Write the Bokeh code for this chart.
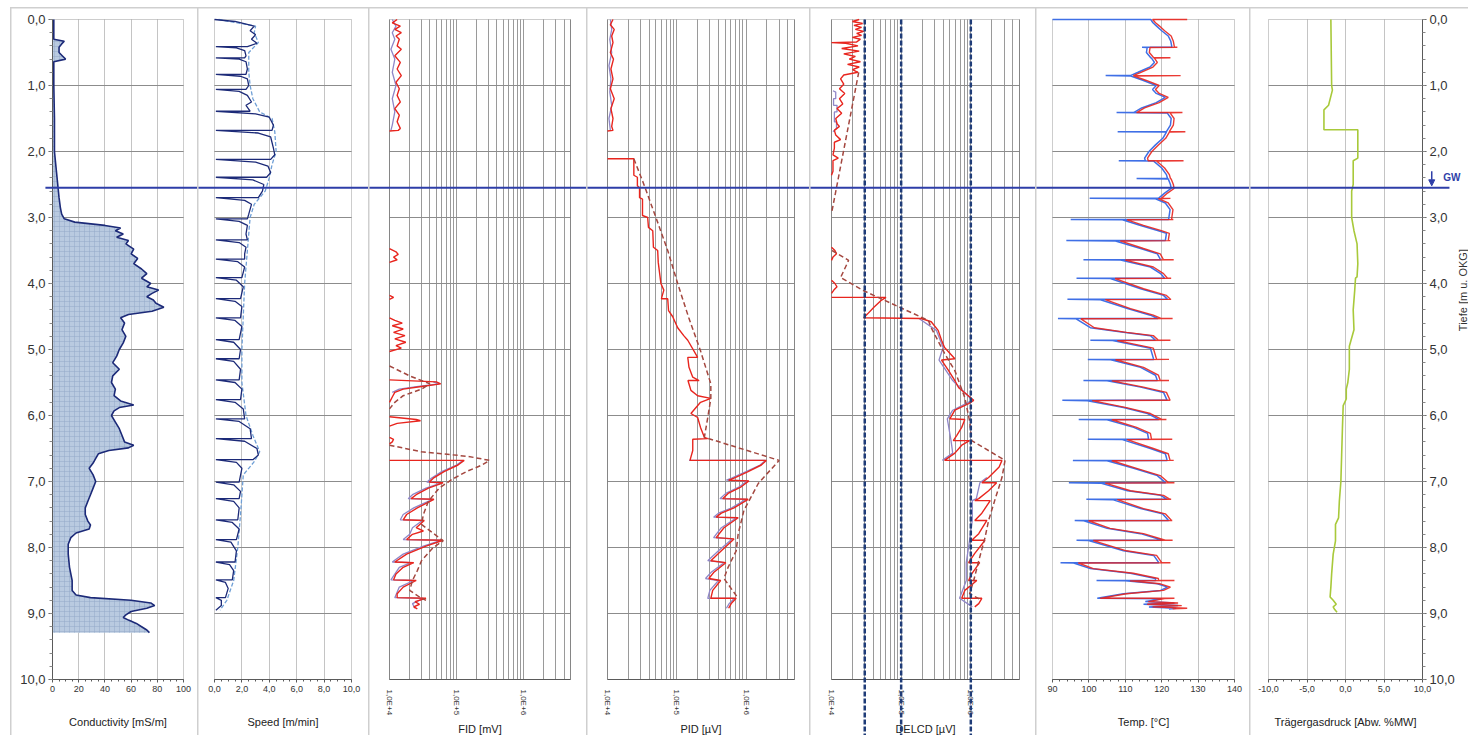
import math
from bokeh.plotting import figure
from bokeh.layouts import row
from bokeh.models import (Range1d, FixedTicker, CustomJSTickFormatter, Arrow, NormalHead, Label,
                          BoxAnnotation)
from bokeh.embed import file_html
from bokeh.resources import INLINE

NAN = float("nan")
FONT = "Liberation Sans"

# ---------------- data (depth in m, value) ----------------
depth_ticks = [0, 1, 2, 3, 4, 5, 6, 7, 8, 9, 10]
gw_depth = 2.55

conductivity = [
    (0.00, 1), (0.30, 1), (0.33, 9), (0.37, 7), (0.42, 5), (0.50, 5), (0.56, 8), (0.60, 10), (0.64, 1),
    (1.00, 1), (1.50, 1.5), (2.00, 1.5), (2.30, 3), (2.50, 4), (2.70, 5), (2.85, 6), (2.95, 7),
    (3.02, 9), (3.07, 17), (3.12, 40), (3.16, 52), (3.20, 48), (3.25, 54), (3.30, 49), (3.35, 58),
    (3.40, 56), (3.48, 62), (3.55, 60), (3.62, 65), (3.70, 62), (3.78, 68), (3.85, 72), (3.92, 68),
    (4.00, 75), (4.05, 72), (4.10, 81), (4.15, 76), (4.20, 72), (4.25, 77), (4.30, 79), (4.36, 85),
    (4.42, 76), (4.47, 58), (4.52, 52), (4.60, 55), (4.70, 53), (4.80, 56), (4.90, 54), (5.00, 51),
    (5.10, 49), (5.20, 46), (5.30, 51), (5.40, 46), (5.50, 45), (5.60, 48), (5.70, 47), (5.78, 52),
    (5.84, 62), (5.88, 51), (5.93, 47), (6.00, 45), (6.10, 48), (6.20, 51), (6.30, 53), (6.40, 55),
    (6.45, 62), (6.49, 58), (6.53, 43), (6.58, 35), (6.65, 33), (6.72, 31), (6.80, 28), (6.90, 31),
    (7.00, 33), (7.10, 31), (7.20, 29), (7.30, 27), (7.40, 25), (7.50, 25), (7.60, 27), (7.66, 29),
    (7.72, 28), (7.78, 18), (7.85, 14), (7.95, 12), (8.10, 12), (8.30, 13), (8.50, 15), (8.65, 15),
    (8.72, 18), (8.76, 29), (8.80, 60), (8.84, 75), (8.88, 78), (8.92, 72), (8.97, 60), (9.02, 56),
    (9.06, 54), (9.10, 58), (9.15, 64), (9.20, 68), (9.25, 72), (9.29, 74),
]

speed = [
    (0.00, 0.0), (0.03, 1.5), (0.10, 2.9), (0.17, 2.6), (0.23, 3.0), (0.30, 2.7), (0.36, 3.1),
    (0.41, 2.4), (0.41, 0.1), (0.43, 1.6), (0.47, 2.2), (0.55, 2.3), (0.58, 2.2), (0.58, 0.1),
    (0.60, 1.8), (0.64, 2.3), (0.75, 2.4), (0.83, 2.3), (0.83, 0.1), (0.86, 1.9), (0.90, 2.4),
    (1.00, 2.5), (1.06, 2.3), (1.06, 0.1), (1.09, 1.8), (1.15, 2.4), (1.25, 2.7), (1.30, 2.3),
    (1.39, 2.6), (1.39, 0.1), (1.43, 3.0), (1.48, 4.0), (1.60, 4.3), (1.68, 4.2), (1.68, 0.1),
    (1.72, 3.2), (1.78, 4.1), (1.95, 4.3), (2.05, 4.4), (2.12, 4.1), (2.12, 0.1), (2.16, 3.0),
    (2.22, 3.9), (2.32, 4.1), (2.39, 3.8), (2.39, 0.1), (2.43, 2.8), (2.50, 3.6), (2.60, 3.5),
    (2.70, 3.2), (2.70, 0.1), (2.74, 2.2), (2.80, 2.7), (2.95, 2.5), (3.02, 2.4), (3.02, 0.1),
    (3.06, 1.8), (3.12, 2.4), (3.25, 2.3), (3.34, 2.4), (3.34, 0.1), (3.38, 1.8), (3.45, 2.3),
    (3.55, 2.2), (3.63, 2.2), (3.63, 0.1), (3.67, 1.7), (3.75, 2.2), (3.91, 2.0), (3.91, 0.1),
    (3.95, 1.6), (4.05, 2.1), (4.23, 1.9), (4.23, 0.1), (4.27, 1.5), (4.35, 2.0), (4.52, 1.9),
    (4.52, 0.1), (4.56, 1.5), (4.65, 2.0), (4.85, 1.8), (4.85, 0.1), (4.89, 1.4), (5.00, 1.9),
    (5.14, 1.8), (5.14, 0.1), (5.18, 1.4), (5.30, 1.9), (5.46, 1.8), (5.46, 0.1), (5.50, 1.5),
    (5.60, 2.0), (5.76, 1.9), (5.76, 0.1), (5.80, 1.5), (5.90, 2.1), (6.05, 2.2), (6.05, 0.1),
    (6.09, 1.8), (6.20, 2.6), (6.35, 2.7), (6.35, 0.1), (6.39, 2.2), (6.50, 3.1), (6.60, 3.2),
    (6.67, 2.8), (6.67, 0.1), (6.71, 1.6), (6.80, 2.0), (7.01, 1.8), (7.01, 0.1), (7.05, 1.4),
    (7.15, 1.9), (7.26, 1.8), (7.26, 0.1), (7.30, 1.4), (7.40, 1.8), (7.58, 1.7), (7.58, 0.1),
    (7.62, 1.3), (7.72, 1.8), (7.88, 1.6), (7.88, 0.1), (7.92, 1.2), (8.05, 1.6), (8.22, 1.5),
    (8.22, 0.1), (8.26, 1.1), (8.35, 1.4), (8.49, 1.3), (8.49, 0.1), (8.53, 0.8), (8.62, 1.0),
    (8.76, 0.8), (8.76, 0.1), (8.80, 0.5), (8.88, 0.5), (8.95, 0.1),
]

speed_smooth = [
    (0.00, 0.3), (0.10, 3.0), (0.20, 2.9), (0.35, 3.2), (0.50, 2.5), (0.80, 2.5), (1.00, 2.6),
    (1.20, 2.8), (1.40, 3.3), (1.50, 4.2), (1.70, 4.4), (2.00, 4.5), (2.20, 4.2), (2.40, 4.0),
    (2.60, 3.7), (2.80, 2.9), (3.00, 2.6), (3.50, 2.4), (4.00, 2.2), (4.50, 2.1), (5.00, 2.0),
    (5.50, 2.0), (6.00, 2.3), (6.30, 2.8), (6.55, 3.3), (6.70, 2.9), (6.90, 2.1), (7.50, 1.9),
    (8.00, 1.7), (8.50, 1.4), (8.80, 0.9), (8.95, 0.4),
]

fid_red = [
    (0.00, 1.3e4), (0.05, 1.1e4), (0.10, 1.45e4), (0.15, 1.2e4), (0.20, 1.5e4), (0.25, 1.25e4),
    (0.30, 1.4e4), (0.40, 1.3e4), (0.45, 1.5e4), (0.55, 1.2e4), (0.65, 1.45e4), (0.75, 1.3e4),
    (0.85, 1.5e4), (0.95, 1.25e4), (1.05, 1.4e4), (1.15, 1.3e4), (1.25, 1.45e4), (1.35, 1.2e4),
    (1.45, 1.4e4), (1.55, 1.3e4), (1.65, 1.45e4), (1.68, 1.35e4), (1.69, 1.0e4), (NAN, NAN),
    (3.47, 1.0e4), (3.52, 1.25e4), (3.56, 1.35e4), (3.60, 1.15e4), (3.64, 1.3e4), (3.68, 1.0e4), (NAN, NAN),
    (4.18, 1.0e4), (4.21, 1.15e4), (4.24, 1.0e4), (NAN, NAN),
    (4.52, 1.0e4), (4.56, 1.2e4), (4.60, 1.55e4), (4.64, 1.1e4), (4.69, 1.6e4), (4.74, 1.15e4),
    (4.79, 1.7e4), (4.84, 1.2e4), (4.89, 1.75e4), (4.94, 1.25e4), (4.98, 1.5e4), (5.03, 1.0e4), (NAN, NAN),
    (5.46, 1.0e4), (5.49, 5.0e4), (5.52, 5.8e4), (5.56, 3.0e4), (5.60, 1.6e4), (5.65, 1.2e4),
    (5.72, 1.1e4), (5.80, 1.0e4), (NAN, NAN),
    (6.02, 1.0e4), (6.06, 2.5e4), (6.08, 2.9e4), (6.12, 1.3e4), (6.16, 1.0e4), (NAN, NAN),
    (6.33, 1.0e4), (6.36, 1.15e4), (6.40, 1.1e4), (6.43, 1.0e4), (NAN, NAN),
    (6.68, 1.0e4), (6.68, 1.3e5), (6.75, 1.05e5), (6.85, 6.5e4), (6.95, 4.5e4), (7.01, 3.9e4),
    (7.02, 6.3e4), (7.10, 3.8e4), (7.20, 2.5e4), (7.26, 2.1e4), (7.27, 4.6e4), (7.40, 2.6e4),
    (7.50, 1.8e4), (7.58, 1.6e4), (7.59, 3.3e4), (7.70, 2.5e4), (7.75, 3.2e4), (7.80, 2.2e4),
    (7.88, 1.8e4), (7.89, 6.3e4), (7.98, 3.5e4), (8.10, 1.8e4), (8.22, 1.2e4), (8.23, 2.3e4),
    (8.30, 1.6e4), (8.40, 1.25e4), (8.49, 1.15e4), (8.50, 2.5e4), (8.60, 1.6e4), (8.70, 1.3e4),
    (8.76, 1.3e4), (8.77, 3.5e4), (8.82, 2.4e4), (8.86, 2.8e4), (8.90, 2.3e4), (8.93, 2.6e4),
]

fid_purple = [
    (0.00, 1.1e4), (0.10, 1.25e4), (0.20, 1.1e4), (0.30, 1.2e4), (0.45, 1.05e4), (0.60, 1.2e4),
    (0.80, 1.1e4), (1.00, 1.25e4), (1.20, 1.1e4), (1.40, 1.2e4), (1.60, 1.1e4), (1.68, 1.05e4), (NAN, NAN),
    (5.49, 4.5e4), (5.52, 5.5e4), (5.56, 2.7e4), (5.60, 1.4e4), (5.65, 1.1e4), (NAN, NAN),
    (6.68, 1.25e5), (6.75, 1.0e5), (6.85, 6.0e4), (6.95, 4.2e4), (7.01, 3.6e4), (7.02, 6.0e4),
    (7.10, 3.5e4), (7.20, 2.2e4), (7.26, 1.9e4), (7.27, 4.4e4), (7.40, 2.3e4), (7.50, 1.6e4),
    (7.58, 1.45e4), (7.59, 3.1e4), (7.70, 2.2e4), (7.80, 2.0e4), (7.88, 1.6e4), (7.89, 6.0e4),
    (7.98, 3.2e4), (8.10, 1.6e4), (8.22, 1.1e4), (8.23, 2.1e4), (8.30, 1.4e4), (8.49, 1.05e4),
    (8.50, 2.3e4), (8.60, 1.4e4), (8.76, 1.2e4), (8.77, 3.2e4), (8.85, 2.2e4), (8.92, 2.4e4),
]

fid_dashed = [
    (5.25, 1.0e4), (5.40, 2.0e4), (5.52, 4.0e4), (5.60, 3.0e4), (5.70, 1.6e4), (5.80, 1.2e4),
    (5.90, 1.0e4), (NAN, NAN),
    (6.45, 1.0e4), (6.55, 3.0e4), (6.62, 1.5e5), (6.68, 3.1e5), (6.75, 2.4e5), (6.85, 1.4e5),
    (6.97, 8.5e4), (7.10, 5.5e4), (7.30, 3.8e4), (7.50, 3.2e4), (7.65, 3.0e4), (7.82, 5.0e4),
    (7.90, 6.3e4), (8.00, 4.5e4), (8.20, 3.0e4), (8.35, 2.6e4), (8.50, 2.2e4), (8.65, 2.0e4),
    (8.75, 2.8e4), (8.80, 3.5e4),
]

pid_red = [
    (0.00, 1.2e4), (0.08, 1.1e4), (0.15, 1.25e4), (0.25, 1.15e4), (0.35, 1.2e4), (0.50, 1.1e4),
    (0.60, 1.22e4), (0.75, 1.12e4), (0.90, 1.2e4), (1.05, 1.1e4), (1.20, 1.25e4), (1.35, 1.12e4),
    (1.50, 1.2e4), (1.62, 1.15e4), (1.68, 1.2e4), (1.69, 1.0e4), (NAN, NAN),
    (2.11, 1.0e4), (2.11, 2.4e4), (2.36, 2.4e4), (2.39, 2.7e4), (2.52, 2.7e4), (2.55, 2.9e4),
    (2.70, 2.9e4), (2.72, 3.2e4), (2.97, 3.2e4), (3.00, 3.8e4), (3.15, 3.9e4), (3.20, 4.5e4),
    (3.45, 4.6e4), (3.50, 5.3e4), (3.68, 5.4e4), (4.00, 5.9e4), (4.10, 6.5e4), (4.23, 6.0e4),
    (4.23, 7.4e4), (4.41, 7.6e4), (4.50, 8.7e4), (4.67, 1.03e5), (4.79, 1.26e5), (4.86, 1.44e5),
    (5.12, 2.0e5), (5.12, 1.44e5), (5.27, 1.5e5), (5.42, 1.7e5), (5.47, 2.1e5), (5.47, 1.45e5),
    (5.62, 1.6e5), (5.70, 2.0e5), (5.74, 3.1e5), (5.80, 2.2e5), (5.97, 1.6e5), (6.03, 2.0e5),
    (6.18, 2.2e5), (6.33, 2.5e5), (6.35, 2.8e5), (6.36, 1.7e5), (6.53, 1.7e5), (6.68, 1.55e5),
    (6.68, 1.96e6), (6.75, 1.66e6), (6.85, 1.07e6), (6.95, 6.7e5), (6.98, 5.6e5), (6.99, 1.1e6),
    (7.08, 8.5e5), (7.18, 5.5e5), (7.26, 4.6e5), (7.27, 1.07e6), (7.40, 6.7e5), (7.48, 4.4e5),
    (7.54, 3.7e5), (7.55, 7.7e5), (7.70, 4.8e5), (7.85, 3.7e5), (7.87, 6.7e5), (8.05, 4.4e5),
    (8.20, 3.1e5), (8.23, 5.1e5), (8.38, 3.4e5), (8.47, 2.9e5), (8.50, 4.3e5), (8.65, 3.3e5),
    (8.77, 3.1e5), (8.77, 7.2e5), (8.85, 6.1e5), (8.92, 5.6e5),
]

pid_purple = [
    (0.00, 1.1e4), (0.15, 1.15e4), (0.30, 1.08e4), (0.50, 1.15e4), (0.70, 1.05e4), (0.90, 1.12e4),
    (1.10, 1.08e4), (1.30, 1.15e4), (1.50, 1.05e4), (1.68, 1.1e4), (NAN, NAN),
    (6.68, 1.5e5), (6.68, 1.9e6), (6.75, 1.6e6), (6.85, 1.0e6), (6.95, 6.2e5), (6.98, 5.2e5),
    (6.99, 1.05e6), (7.08, 8.0e5), (7.18, 5.1e5), (7.26, 4.2e5), (7.27, 1.0e6), (7.40, 6.2e5),
    (7.48, 4.0e5), (7.54, 3.4e5), (7.55, 7.3e5), (7.70, 4.4e5), (7.85, 3.4e5), (7.87, 6.3e5),
    (8.05, 4.0e5), (8.20, 2.8e5), (8.23, 4.8e5), (8.38, 3.1e5), (8.47, 2.6e5), (8.50, 4.0e5),
    (8.65, 3.0e5), (8.77, 2.8e5), (8.77, 6.8e5), (8.85, 5.7e5), (8.92, 5.2e5),
]

pid_dashed = [
    (2.11, 2.4e4), (2.48, 3.3e4), (3.00, 5.0e4), (3.50, 7.4e4), (4.00, 1.03e5), (4.52, 1.49e5),
    (5.02, 2.2e5), (5.52, 3.1e5), (5.74, 3.1e5), (6.03, 2.8e5), (6.33, 2.5e5), (6.68, 3.0e6),
    (7.03, 1.5e6), (7.44, 9.3e5), (7.79, 7.7e5), (8.05, 7.2e5), (8.30, 5.5e5), (8.47, 4.8e5),
    (8.77, 7.7e5),
]

delcd_red = [
    (0.00, 2.5e4), (0.03, 2.0e4), (0.06, 2.8e4), (0.09, 2.1e4), (0.12, 2.7e4), (0.15, 2.2e4),
    (0.18, 2.9e4), (0.21, 2.3e4), (0.24, 2.7e4), (0.27, 2.0e4), (0.30, 2.6e4), (0.34, 2.3e4),
    (0.35, 1.0e4), (0.36, 1.6e4), (0.40, 2.4e4), (0.44, 1.4e4), (0.48, 2.5e4), (0.52, 1.5e4),
    (0.56, 2.2e4), (0.60, 1.8e4), (0.64, 2.6e4), (0.68, 1.7e4), (0.72, 2.5e4), (0.76, 2.0e4),
    (0.80, 2.4e4), (0.84, 1.5e4), (0.90, 1.35e4), (0.98, 1.5e4), (1.05, 1.3e4), (1.12, 1.55e4),
    (1.20, 1.3e4), (1.28, 1.45e4), (1.35, 1.2e4), (1.42, 1.4e4), (1.50, 1.15e4), (1.58, 1.2e4),
    (1.62, 1.3e4), (1.68, 1.1e4), (1.75, 1.15e4), (1.82, 1.35e4), (1.86, 1.1e4), (1.95, 1.1e4),
    (2.05, 1.05e4), (2.10, 1.25e4), (2.14, 1.05e4), (2.30, 1.05e4), (2.36, 1.0e4), (NAN, NAN),
    (3.45, 1.0e4), (3.50, 1.12e4), (3.55, 1.18e4), (3.60, 1.05e4), (3.65, 1.0e4), (NAN, NAN),
    (3.95, 1.0e4), (4.00, 1.12e4), (4.05, 1.2e4), (4.10, 1.08e4), (4.15, 1.0e4), (NAN, NAN),
    (4.21, 1.0e4), (4.21, 6.06e4), (4.26, 5.1e4), (4.36, 4.06e4), (4.46, 3.3e4), (4.52, 2.9e4),
    (4.53, 1.95e5), (4.58, 2.7e5), (4.71, 3.4e5), (4.86, 3.8e5), (4.97, 4.2e5), (5.14, 5.9e5),
    (5.16, 3.8e5), (5.32, 4.8e5), (5.47, 5.9e5), (5.58, 6.7e5), (5.77, 1.1e6), (5.82, 9.3e5),
    (5.92, 5.9e5), (6.05, 5.0e5), (6.06, 8.2e5), (6.18, 7.4e5), (6.30, 6.3e5), (6.38, 5.6e5),
    (6.38, 9.6e5), (6.45, 7.4e5), (6.57, 5.9e5), (6.68, 4.2e5), (6.68, 2.8e6), (6.78, 2.55e6),
    (6.94, 1.8e6), (7.02, 1.44e6), (7.02, 2.35e6), (7.14, 1.8e6), (7.26, 1.3e6), (7.29, 1.14e6),
    (7.29, 1.9e6), (7.48, 1.44e6), (7.59, 1.14e6), (7.59, 1.7e6), (7.79, 1.3e6), (7.89, 1.03e6),
    (7.89, 1.6e6), (8.09, 1.14e6), (8.23, 9.3e5), (8.23, 1.34e6), (8.40, 1.03e6), (8.50, 9.3e5),
    (8.50, 1.22e6), (8.65, 8.2e5), (8.77, 7.4e5), (8.77, 1.44e6), (8.85, 1.3e6), (8.90, 1.14e6),
]

delcd_purple = [
    (1.08, 1.05e4), (1.10, 1.15e4), (1.20, 1.15e4), (1.20, 1.07e4), (1.30, 1.07e4), (1.30, 1.2e4),
    (1.40, 1.2e4), (1.40, 1.1e4), (1.55, 1.1e4), (1.55, 1.18e4), (1.65, 1.18e4), (1.70, 1.05e4), (NAN, NAN),
    (4.53, 1.8e5), (4.71, 3.2e5), (4.97, 4.0e5), (5.16, 3.5e5), (5.47, 5.5e5), (5.77, 1.05e6),
    (5.92, 5.5e5), (6.05, 4.6e5), (6.38, 5.2e5), (6.57, 5.5e5), (6.68, 3.9e5), (NAN, NAN),
    (6.94, 1.7e6), (7.02, 1.35e6), (7.26, 1.2e6), (7.29, 1.05e6), (7.59, 1.05e6), (7.89, 9.6e5),
    (8.23, 8.6e5), (8.50, 8.6e5), (8.77, 6.9e5), (8.90, 1.05e6),
]

delcd_dashed = [
    (0.80, 2.46e4), (2.94, 1.0e4), (NAN, NAN),
    (3.50, 1.02e4), (3.65, 1.76e4), (3.91, 1.35e4), (4.11, 2.9e4), (4.56, 2.46e5), (4.67, 2.7e5),
    (5.06, 4.2e5), (5.32, 5.9e5), (5.73, 8.2e5), (6.08, 9.6e5), (6.38, 1.03e6), (6.68, 3.1e6),
    (6.94, 2.8e6), (7.29, 2.2e6), (7.59, 1.8e6), (7.85, 1.6e6), (8.20, 1.3e6), (8.50, 1.1e6),
    (8.70, 9.6e5), (8.80, 1.44e6),
]

delcd_limits = [3.0e4, 1.0e5, 1.0e6]

# Temperature (depth, blue probe, red probe) in degC
temperature = [
    (0.000, 90.0, 127.0), (0.000, 117.0, 117.5), (0.05, 117.6, 118.3), (0.10, 118.6, 119.4),
    (0.17, 120.0, 120.8), (0.25, 121.8, 122.6), (0.33, 122.5, 123.2), (0.42, 122.8, 123.5),
    (0.42, 114.6, 124.3), (0.425, 116.0, 116.8), (0.50, 115.8, 116.6), (0.58, 117.0, 117.8),
    (0.58, 117.0, 122.4), (0.585, 117.2, 118.0), (0.65, 118.0, 118.8), (0.72, 116.8, 117.6),
    (0.80, 113.5, 114.3), (0.85, 111.4, 112.2), (0.85, 104.6, 125.2), (0.855, 111.5, 112.3),
    (0.92, 114.8, 115.6), (1.00, 118.5, 119.3), (1.06, 117.5, 118.3), (1.12, 118.5, 119.3),
    (1.18, 121.0, 121.8), (1.26, 118.5, 119.3), (1.34, 114.5, 115.3), (1.41, 112.3, 113.1),
    (1.41, 107.6, 125.7), (1.415, 121.5, 122.3), (1.50, 122.6, 123.4), (1.60, 122.4, 123.2),
    (1.70, 121.3, 122.1), (1.70, 107.9, 126.5), (1.705, 121.3, 122.1), (1.80, 120.3, 121.1),
    (1.90, 118.3, 119.1), (2.00, 116.5, 117.3), (2.10, 115.3, 116.1), (2.14, 115.5, 116.3),
    (2.14, 108.2, 126.0), (2.145, 117.8, 118.6), (2.25, 120.0, 120.8), (2.35, 121.3, 122.1),
    (2.41, 121.6, 122.4), (2.41, 113.1, 122.4), (2.415, 121.8, 122.6), (2.50, 122.4, 123.2),
    (2.56, 122.6, 123.4), (2.63, 120.8, 121.6), (2.71, 119.1, 119.9), (2.71, 100.2, 122.4),
    (2.715, 118.3, 119.1), (2.78, 121.0, 121.8), (2.88, 122.3, 123.1), (3.03, 121.9, 122.7),
    (3.03, 95.0, 123.2), (3.035, 109.2, 110.5), (3.12, 114.2, 115.0), (3.20, 119.1, 119.9),
    (3.24, 121.3, 122.1), (3.35, 121.0, 121.8), (3.35, 93.8, 122.4), (3.355, 107.3, 108.6),
    (3.47, 114.2, 115.0), (3.55, 118.8, 119.6), (3.64, 119.7, 120.5), (3.64, 98.5, 123.3),
    (3.645, 108.7, 110.0), (3.75, 116.9, 117.7), (3.85, 119.7, 120.5), (3.92, 120.8, 121.6),
    (3.92, 96.6, 122.6), (3.925, 105.9, 107.2), (4.08, 114.2, 115.0), (4.18, 120.5, 121.3),
    (4.24, 121.6, 122.4), (4.24, 94.1, 122.6), (4.245, 103.2, 104.5), (4.38, 110.6, 111.4),
    (4.48, 116.9, 117.7), (4.53, 119.0, 119.8), (4.53, 91.5, 123.0), (4.535, 96.5, 97.8),
    (4.67, 100.4, 101.5), (4.74, 109.5, 110.3), (4.79, 116.9, 117.7), (4.86, 118.3, 119.1),
    (4.86, 100.4, 122.4), (4.865, 106.5, 107.8), (4.98, 116.9, 117.7), (5.15, 117.8, 118.6),
    (5.15, 99.7, 122.0), (5.155, 106.0, 107.3), (5.27, 114.2, 115.0), (5.39, 118.3, 119.1),
    (5.47, 118.8, 119.6), (5.47, 98.5, 122.0), (5.475, 105.0, 106.3), (5.57, 114.2, 115.0),
    (5.65, 120.5, 121.3), (5.77, 121.5, 122.3), (5.77, 92.7, 121.8), (5.775, 99.6, 100.9),
    (5.88, 109.5, 110.3), (5.97, 116.1, 116.9), (6.06, 119.2, 120.0), (6.06, 97.2, 121.3),
    (6.065, 105.0, 106.3), (6.18, 112.3, 113.1), (6.27, 116.1, 116.9), (6.36, 116.4, 117.2),
    (6.36, 99.7, 122.9), (6.365, 109.2, 110.5), (6.50, 116.9, 117.7), (6.58, 121.0, 121.8),
    (6.68, 121.5, 122.3), (6.68, 95.6, 123.3), (6.685, 105.0, 106.3), (6.80, 112.3, 113.1),
    (6.91, 118.8, 119.6), (7.02, 121.1, 121.9), (7.02, 94.5, 123.5), (7.025, 103.2, 104.5),
    (7.14, 110.6, 111.4), (7.21, 119.7, 120.5), (7.27, 121.5, 122.3), (7.27, 99.3, 122.6),
    (7.275, 106.5, 107.8), (7.41, 114.2, 115.0), (7.49, 120.2, 121.0), (7.59, 121.9, 122.7),
    (7.59, 96.1, 122.9), (7.595, 98.6, 99.9), (7.71, 105.0, 105.8), (7.79, 114.2, 115.0),
    (7.89, 120.2, 121.0), (7.89, 96.6, 123.0), (7.895, 99.9, 101.2), (8.05, 109.5, 110.3),
    (8.12, 117.8, 118.6), (8.23, 119.2, 120.0), (8.23, 92.2, 122.4), (8.235, 95.8, 97.1),
    (8.32, 100.4, 101.2), (8.39, 111.4, 112.2), (8.47, 118.3, 119.1), (8.50, 118.3, 119.1),
    (8.50, 102.1, 123.5), (8.505, 110.0, 111.3), (8.55, 118.8, 119.6), (8.60, 121.6, 122.4),
    (8.65, 119.7, 120.5), (8.70, 109.5, 110.3), (8.77, 102.3, 103.1), (8.77, 102.3, 123.5),
    (8.775, 120.0, 120.8), (8.82, 115.5, 116.3), (8.84, 123.5, 124.5), (8.86, 115.0, 116.0),
    (8.88, 124.5, 125.5), (8.90, 116.5, 117.5), (8.92, 124.0, 127.0), (8.93, 122.0, 123.0),
]

carrier_gas = [
    (0.00, -1.9), (1.00, -1.8), (1.07, -1.7), (1.30, -2.2), (1.37, -2.8), (1.67, -2.8), (1.67, 1.6),
    (2.10, 1.6), (2.14, 1.0), (2.50, 1.0), (2.60, 0.8), (3.00, 0.8), (3.20, 1.1), (3.40, 1.5),
    (3.70, 1.6), (3.90, 1.5), (3.92, 1.3), (4.10, 1.2), (4.40, 1.0), (4.70, 1.1), (4.95, 0.5),
    (5.30, 0.5), (5.50, 0.3), (5.60, 0.1), (5.75, 0.1), (5.85, -0.3), (6.20, -0.4), (6.60, -0.5),
    (7.00, -0.6), (7.30, -0.8), (7.55, -0.9), (7.65, -1.3), (7.90, -1.3), (8.10, -1.6), (8.40, -1.8),
    (8.60, -1.9), (8.75, -2.0), (8.80, -1.6), (8.86, -1.2), (8.90, -1.6), (8.94, -1.4), (8.98, -1.1),
]

cond_ticks = [0, 20, 40, 60, 80, 100]
speed_ticks = [0, 2, 4, 6, 8, 10]
log_ticks = [1e4, 1e5, 1e6]
temp_ticks = [90, 100, 110, 120, 130, 140]
gas_ticks = [-10, -5, 0, 5, 10]

# ---------------- styling / layout ----------------
NAVY = "#1c2a78"
LIGHT_BLUE = "#6f9fd6"
RED = "#e8251e"
PURPLE = "#8f86c8"
DASH_RED = "#a4473f"
T_BLUE = "#3f6fe6"
GW = "#2e3ea8"
GAS = "#a8c93a"
LIMIT = "#1f3c78"
FRAME = "#5a5a5a"

CANVAS_H = 727     # each track canvas height
BOX_TOP = 11       # px from canvas top to depth 0
BOX_H = 660        # px for 10 m

depth_minor = [i / 5 for i in range(51)]
log_minor = [m * 10 ** e for e in (4, 5, 6) for m in range(2, 10) if m * 10 ** e <= 5e6]


def cols(points, i):
    return [pt[i] for pt in points]


def comma_fmt():
    return CustomJSTickFormatter(code="return tick.toFixed(1).replace('.', ',');")


def set_cross(grid, lo, hi):
    if "cross_bounds" in grid.properties():
        grid.cross_bounds = (lo, hi)


def make_panel(box, canvas_w, box_left, box_w, label, log=False, depth_axis=None):
    a, b = box
    right_px = canvas_w - box_left - box_w
    if log:
        la, lb = math.log10(a), math.log10(b)
        s = (lb - la) / box_w
        xr = Range1d(10 ** (la - box_left * s), 10 ** (lb + right_px * s))
    else:
        s = (b - a) / box_w
        xr = Range1d(a - box_left * s, b + right_px * s)
    px_m = BOX_H / 10
    yr = Range1d(10 + (CANVAS_H - BOX_TOP - BOX_H) / px_m, -BOX_TOP / px_m)
    p = figure(x_range=xr, y_range=yr, x_axis_type="log" if log else "linear",
               y_axis_location=depth_axis, title=None,
               width=canvas_w, height=CANVAS_H, min_border=0,
               toolbar_location=None, output_backend="svg")
    p.outline_line_color = None
    p.add_layout(BoxAnnotation(left=a, right=b, top=0, bottom=10, fill_color=None,
                               line_color=FRAME, line_width=1, level="underlay"))
    p.ygrid.ticker = FixedTicker(ticks=depth_ticks[1:-1])
    p.ygrid.grid_line_color = "#8c8c8c"
    set_cross(p.ygrid[0], a, b)
    set_cross(p.xgrid[0], 0, 10)

    ax = p.xaxis[0]
    ax.fixed_location = 10
    ax.bounds = (a, b)
    ax.axis_label = label
    ax.axis_label_text_font = FONT
    ax.axis_label_text_font_size = "11px"
    ax.axis_label_text_font_style = "normal"
    ax.axis_label_text_color = "#222222"
    ax.major_label_text_font = FONT
    ax.major_label_text_font_size = "9px"
    ax.major_label_text_color = "#333333"
    ax.axis_line_color = FRAME
    ax.major_tick_line_color = FRAME
    ax.minor_tick_line_color = FRAME
    if log:
        ax.ticker = FixedTicker(ticks=log_ticks)
        ax.formatter = CustomJSTickFormatter(code="return '1,0E+' + Math.round(Math.log10(tick));")
        ax.major_label_text_font_size = "8px"
        ax.major_label_orientation = "vertical"
        ax.major_tick_line_color = None
        ax.minor_tick_line_color = None
        ax.major_label_standoff = 4
        ax.axis_label_standoff = 5
        p.xgrid.ticker = FixedTicker(ticks=log_ticks, minor_ticks=log_minor)
        p.xgrid.grid_line_color = "#9a9a9a"
        p.xgrid.minor_grid_line_color = "#9a9a9a"
    else:
        ax.major_tick_in = 0
        ax.major_tick_out = 3
        ax.minor_tick_in = 0
        ax.minor_tick_out = 2
        ax.major_label_standoff = 3
        ax.axis_label_standoff = 21
        p.xgrid.grid_line_color = "#c4c4c4"
    return p


def style_depth_axis(p, at):
    ax = p.yaxis[0]
    ax.fixed_location = at
    ax.bounds = (0, 10)
    ax.ticker = FixedTicker(ticks=depth_ticks, minor_ticks=depth_minor)
    ax.formatter = comma_fmt()
    ax.major_label_text_font = FONT
    ax.major_label_text_font_size = "13px"
    ax.major_label_text_color = "#333333"
    ax.axis_line_color = FRAME
    ax.major_tick_line_color = FRAME
    ax.minor_tick_line_color = "#888888"
    ax.major_tick_in = 0
    ax.major_tick_out = 4
    ax.minor_tick_in = 0
    ax.minor_tick_out = 3
    ax.major_label_standoff = 3


def gw_line(p, x_from, x_to):
    p.add_layout(Arrow(x_start=x_from, y_start=gw_depth, x_end=x_to, y_end=gw_depth,
                       end=None, line_color=GW, line_width=2))


# 1 Conductivity
p1 = make_panel((0, 100), 186, 41, 131, "Conductivity [mS/m]", depth_axis="left")
style_depth_axis(p1, 0)
p1.xaxis.ticker = FixedTicker(ticks=cond_ticks, minor_ticks=list(range(0, 101, 5)))
p1.xgrid.ticker = FixedTicker(ticks=cond_ticks[1:-1])
p1.harea(x1=0, x2=cols(conductivity, 1), y=cols(conductivity, 0),
         fill_color="#b9cae0", hatch_pattern="cross", hatch_color="#93a9c8",
         hatch_scale=5, hatch_weight=0.5)
p1.line(cols(conductivity, 1), cols(conductivity, 0), line_color=NAVY, line_width=1.6)
gw_line(p1, -5.4, 200)

# 2 Speed
p2 = make_panel((0, 10), 170, 16, 137, "Speed [m/min]")
p2.xaxis.ticker = FixedTicker(ticks=speed_ticks, minor_ticks=[i / 2 for i in range(21)])
p2.xaxis.formatter = comma_fmt()
p2.xgrid.ticker = FixedTicker(ticks=speed_ticks[1:-1])
p2.line(cols(speed_smooth, 1), cols(speed_smooth, 0), line_color=LIGHT_BLUE, line_width=1.3,
        line_dash="4 2")
p2.line(cols(speed, 1), cols(speed, 0), line_color=NAVY, line_width=1.3)
gw_line(p2, -5, 15)

# 3 FID
p3 = make_panel((1e4, 5e6), 217, 20, 181, "FID [mV]", log=True)
p3.line(cols(fid_purple, 1), cols(fid_purple, 0), line_color=PURPLE, line_width=1.3)
p3.line(cols(fid_red, 1), cols(fid_red, 0), line_color=RED, line_width=1.4)
p3.line(cols(fid_dashed, 1), cols(fid_dashed, 0), line_color=DASH_RED, line_width=1.5, line_dash="5 3")
gw_line(p3, 1e2, 1e9)

# 4 PID
p4 = make_panel((1e4, 5e6), 222, 20, 187, "PID [µV]", log=True)
p4.line(cols(pid_purple, 1), cols(pid_purple, 0), line_color=PURPLE, line_width=1.3)
p4.line(cols(pid_red, 1), cols(pid_red, 0), line_color=RED, line_width=1.4)
p4.line(cols(pid_dashed, 1), cols(pid_dashed, 0), line_color=DASH_RED, line_width=1.5, line_dash="5 3")
gw_line(p4, 1e2, 1e9)

# 5 DELCD
p5 = make_panel((1e4, 5e6), 225, 21, 188, "DELCD [µV]", log=True)
p5.line(cols(delcd_purple, 1), cols(delcd_purple, 0), line_color=PURPLE, line_width=1.3)
p5.line(cols(delcd_red, 1), cols(delcd_red, 0), line_color=RED, line_width=1.4)
p5.line(cols(delcd_dashed, 1), cols(delcd_dashed, 0), line_color=DASH_RED, line_width=1.5,
        line_dash="5 3")
for limit in delcd_limits:
    p5.add_layout(Arrow(x_start=limit, y_start=0, x_end=limit, y_end=11, end=None,
                        line_color=LIMIT, line_width=2.5, line_dash="5 2"))
gw_line(p5, 1e2, 1e9)

# 6 Temperature
p6 = make_panel((90, 140), 213, 16, 182, "Temp. [°C]")
p6.xaxis.ticker = FixedTicker(ticks=temp_ticks, minor_ticks=list(range(90, 141, 2)))
p6.xgrid.ticker = FixedTicker(ticks=temp_ticks[1:-1])
p6.line(cols(temperature, 1), cols(temperature, 0), line_color=T_BLUE, line_width=1.5)
p6.line(cols(temperature, 2), cols(temperature, 0), line_color=RED, line_width=1.4, line_alpha=0.9)
gw_line(p6, 60, 170)

# 7 Carrier gas pressure
p7 = make_panel((-10, 10), 218, 18, 154, "Trägergasdruck [Abw. %MW]", depth_axis="right")
style_depth_axis(p7, 10)
p7.xaxis.ticker = FixedTicker(ticks=gas_ticks, minor_ticks=list(range(-10, 11)))
p7.xaxis.formatter = comma_fmt()
p7.xgrid.ticker = FixedTicker(ticks=gas_ticks[1:-1])
p7.line(cols(carrier_gas, 1), cols(carrier_gas, 0), line_color=GAS, line_width=1.6)
gw_line(p7, -20, 13.5)
p7.add_layout(Arrow(x_start=11.2, y_start=2.3, x_end=11.2, y_end=2.52, line_color=GW, line_width=1.5,
                    end=NormalHead(size=6, fill_color=GW, line_color=GW)))
p7.add_layout(Label(x=12.7, y=2.4, text="GW", text_font=FONT, text_font_size="10px",
                    text_font_style="bold", text_color=GW, text_baseline="middle"))
p7.add_layout(Label(x=15.3, y=4.1, text="Tiefe [m u. OKG]", text_font=FONT, text_font_size="11px",
                    text_color="#333333", angle=math.pi / 2, text_align="center",
                    text_baseline="middle"))

layout = row([p1, p2, p3, p4, p5, p6, p7], spacing=1, margin=(7, 0, 0, 10),
             styles={"background-color": "#cfcfcf", "border-top": "1px solid #cfcfcf",
                     "border-left": "1px solid #cfcfcf"})

open("out.html", "w").write(file_html(layout, INLINE))
